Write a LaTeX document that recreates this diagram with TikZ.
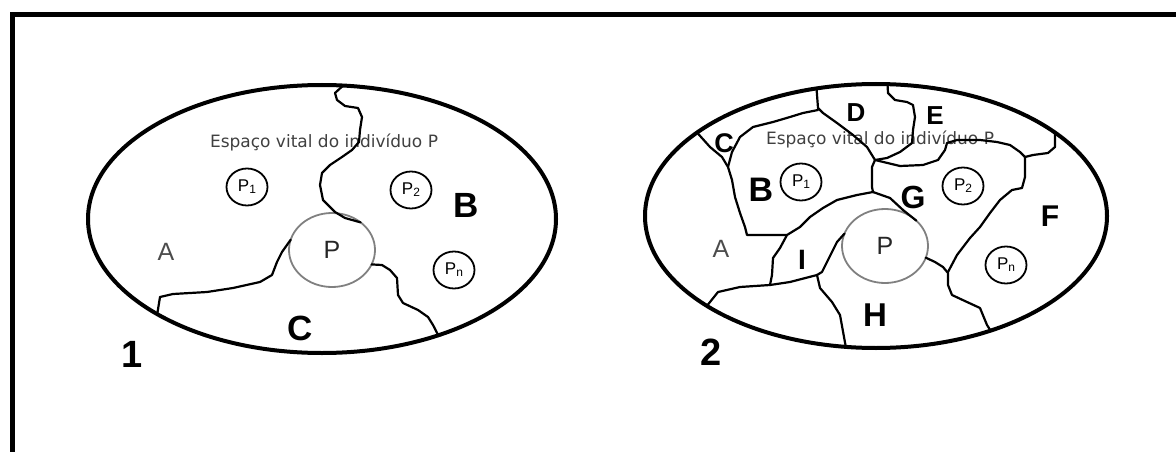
\documentclass[tikz,border=0pt]{standalone}
\usepackage{fontspec}
\setmainfont{Liberation Sans}
\newfontfamily\vitalfont{DejaVu Sans}
\usetikzlibrary{shapes.geometric}
\tikzset{
  frame/.style={line width=5pt,line join=miter},
  vital/.style={draw,ellipse,line width=4pt,inner sep=0pt,outer sep=0pt},
  self/.style={draw=black!50,ellipse,line width=1.8pt,minimum width=86pt,minimum height=74pt,inner sep=0pt,outer sep=0pt,text=black!85,font=\fontsize{25}{25}\selectfont},
  pers/.style={draw,ellipse,line width=1.8pt,minimum width=41pt,minimum height=37pt,inner sep=0pt,font=\fontsize{17}{17}\selectfont},
  limit/.style={line width=2.2pt,line join=round,line cap=round},
  vitaltext/.style={anchor=base,text=black!75,font=\vitalfont\fontsize{17}{17}\selectfont}
}
\newcommand{\vitalspace}[5]{\node[vital,minimum width=#4pt,minimum height=#5pt] (#1) at (#2,#3) {};}
\newcommand{\pers}[4]{\node[pers] (#1) at (#2,#3) {P\raisebox{-2pt}{\fontsize{12}{12}\selectfont #4}};}
\newcommand{\zone}[5]{\node[inner sep=1pt,font=\fontsize{#4}{#4}\selectfont\bfseries] (#1) at (#2,#3) {#5};}

\begin{document}
\begin{tikzpicture}[x=1pt,y=-1pt]
    \useasboundingbox (0,0) rectangle (1176,452);
    \draw[frame] (12,452) -- (12,14.5) -- (1176,14.5);

    % space 1
    \vitalspace{EL}{322}{219}{468}{268}
    \node[self] (PL) at (332,250) {P};
    \node[vitaltext] (TL) at (324,147) {Espaço vital do indivíduo P};
    \pers{P1L}{247}{187}{1} \pers{P2L}{411}{190}{2} \pers{PnL}{454}{270}{n}
    \node[text=black!70,font=\fontsize{25}{25}\selectfont] (AL) at (166,252) {A};
    \zone{BL}{466}{205}{35}{B} \zone{CL}{300}{328}{35}{C}
    \zone{N1}{132}{354}{38}{1}
    \draw[limit] (EL.81.5) -- (335,93) -- (337,100) -- (345,106) -- (358,108) -- (362,117) -- (360,130) -- (359,142)
        -- (352,150) -- (342,157) -- (330,165) -- (322,173) -- (320,185) -- (323,200) -- (335,212) -- (345,218) -- (PL.44);
    \draw[limit] (EL.-150.9) -- (160,297) -- (173,294) -- (207,292) -- (233,288) -- (260,282) -- (272,275) -- (277,262)
        -- (282,252) -- (PL.166.6);
    \draw[limit] (PL.-20.6) -- (382,265) -- (390,270) -- (397,278) -- (398,295) -- (403,303) -- (418,310) -- (428,317)
        -- (433,325) -- (EL.-45.5);

    % space 2
    \vitalspace{ER}{876}{216}{462}{264}
    \node[self] (PR) at (885,246) {P};
    \node[vitaltext] (TR) at (880,144) {Espaço vital do indivíduo P};
    \pers{P1R}{801}{182}{1} \pers{P2R}{963}{186}{2} \pers{PnR}{1006}{265}{n}
    \node[text=black!70,font=\fontsize{25}{25}\selectfont] (AR) at (721,249) {A};
    \zone{BR}{761}{190}{34}{B} \zone{CR}{724}{143}{27}{C} \zone{DR}{856}{113}{26}{D}
    \zone{ER2}{935}{116}{26}{E} \zone{FR}{1050}{216}{30}{F} \zone{GR}{913}{197}{32}{G}
    \zone{HR}{875}{315}{33}{H} \zone{IR}{802}{260}{28}{I}
    \zone{N2}{711}{352}{38}{2}
    \draw[limit] (ER.155.3) -- (710,147) -- (722,157) -- (728,167) -- (732,180) -- (735,197) -- (740,213) -- (745,227)
        -- (747,235) -- (787,235);
    \draw[limit] (728,167) -- (732,152) -- (740,137) -- (753,127) -- (773,122) -- (790,117) -- (803,113) -- (818,110);
    \draw[limit] (ER.115) -- (818,108) -- (823,113) -- (837,123) -- (853,135) -- (867,147) -- (875,160);
    \draw[limit] (ER.85.2) -- (888,93) -- (895,100) -- (907,102) -- (913,105) -- (915,117) -- (913,130) -- (912,143)
        -- (900,152) -- (887,158) -- (875,160);
    \draw[limit] (875,160) -- (900,166) -- (923,165) -- (938,160) -- (945,150) -- (947,143) -- (957,140) -- (980,140)
        -- (997,142) -- (1010,145) -- (1020,152) -- (1025,157);
    \draw[limit] (ER.25.4) -- (1055,147) -- (1048,153) -- (1033,155) -- (1025,157);
    \draw[limit] (1025,157) -- (1025,177) -- (1022,188) -- (1012,190) -- (1000,200) -- (990,213) -- (980,227)
        -- (970,238) -- (957,255) -- (948,272);
    \draw[limit] (875,160) -- (872,167) -- (872,187) -- (873,192);
    \draw[limit] (873,192) -- (857,195) -- (837,200) -- (823,208) -- (810,217) -- (800,227) -- (787,235);
    \draw[limit] (873,192) -- (890,198) -- (903,210) -- (PR.39.8);
    \draw[limit] (787,235) -- (780,248) -- (773,258) -- (772,275) -- (770,285);
    \draw[limit] (ER.-152) -- (718,292) -- (740,287) -- (770,285) -- (790,282) -- (817,275) -- (822,272);
    \draw[limit] (822,272) -- (827,262) -- (832,252) -- (837,242) -- (PR.163);
    \draw[limit] (817,275) -- (820,288) -- (832,302) -- (840,315) -- (ER.-103.3);
    \draw[limit] (PR.-16.7) -- (935,262) -- (943,267) -- (948,273) -- (948,285) -- (952,295) -- (967,302) -- (980,308)
        -- (987,325) -- (ER.-45.8);
\end{tikzpicture}
\end{document}
